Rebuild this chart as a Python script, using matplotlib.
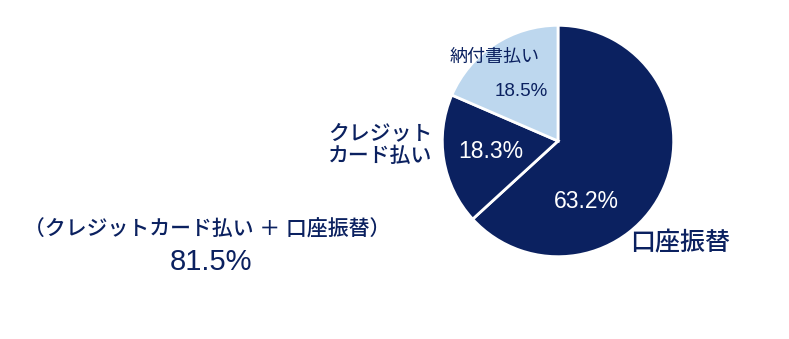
import matplotlib.pyplot as plt

# データ
labels = ['口座振替', 'クレジットカード払い', '納付書払い']
shares = [63.2, 18.3, 18.5]
combined_label = '（クレジットカード払い ＋ 口座振替）'
combined_value = 81.5

navy = '#0b2160'
light = '#bdd7ee'
colors = [navy, navy, light]

W, H = 789, 339
jp = ['Liberation Sans', 'Noto Sans CJK JP']


def px(x, y):
    return x / W, 1 - y / H


fig = plt.figure(figsize=(W / 100, H / 100), dpi=100, facecolor='white')

cx, cy, r = 558, 141, 118
ax = fig.add_axes([(cx - r) / W, (H - cy - r) / H, 2 * r / W, 2 * r / H])
ax.pie(shares, colors=colors, startangle=90, counterclock=False,
       wedgeprops=dict(edgecolor='white', linewidth=2))
ax.set_xlim(-1.02, 1.02)
ax.set_ylim(-1.02, 1.02)
ax.axis('off')

# スライス内の値
fig.text(*px(586, 201), f'{shares[0]}%', color='white', fontsize=16.5,
         family=jp, ha='center', va='center')
fig.text(*px(491, 152), f'{shares[1]}%', color='white', fontsize=16.5,
         family=jp, ha='center', va='center')
fig.text(*px(521, 91), f'{shares[2]}%', color=navy, fontsize=13.5,
         family=jp, ha='center', va='center')

# ラベル
fig.text(*px(495, 57), labels[2], color=navy, fontsize=13,
         family=jp, ha='center', va='center')
fig.text(*px(380, 145), 'クレジット\nカード払い', color=navy, fontsize=15,
         family=jp, weight='medium', ha='center', va='center', linespacing=1.25)
fig.text(*px(680, 243), labels[0], color=navy, fontsize=18,
         family=jp, weight='medium', ha='center', va='center')

# 合計
fig.text(*px(207, 229), combined_label, color=navy, fontsize=15,
         family=jp, weight='medium', ha='center', va='center')
fig.text(*px(211, 262), f'{combined_value}%', color=navy, fontsize=21,
         family=jp, ha='center', va='center')

fig.savefig('out.png', dpi=100, facecolor='white')
